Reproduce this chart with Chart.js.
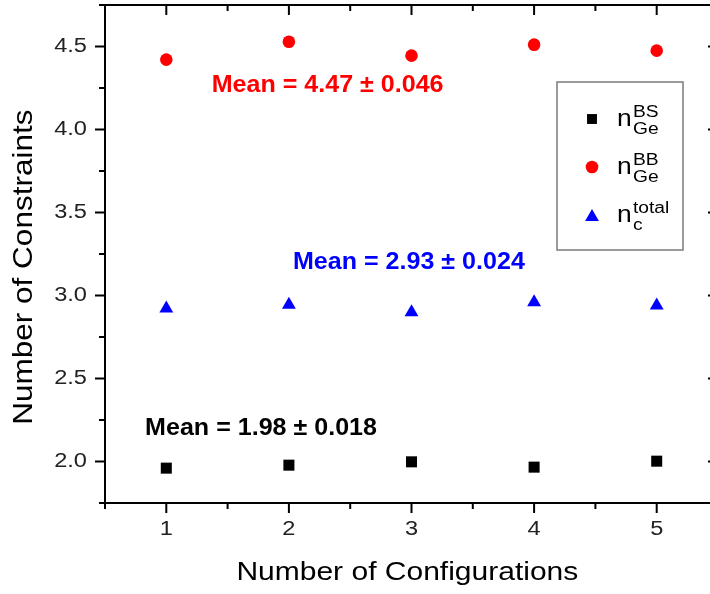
<!DOCTYPE html>
<html><head><meta charset="utf-8">
<script src="https://cdn.jsdelivr.net/npm/chart.js@4"></script>
<style>html,body{margin:0;padding:0;overflow:hidden;background:#fff}#wrap{position:relative;width:730px;height:594px}</style>
</head><body><div id="wrap"><canvas id="c"></canvas></div>
<script>
const configurations = [1, 2, 3, 4, 5];
const nGeBS   = [1.960, 1.978, 1.998, 1.966, 2.002];
const nGeBB   = [4.421, 4.529, 4.445, 4.511, 4.475];
const ncTotal = [2.921, 2.944, 2.899, 2.960, 2.940];
const xTicks = [1, 2, 3, 4, 5];
const xTickLabels = ['1', '2', '3', '4', '5'];
const yTicks = [2.0, 2.5, 3.0, 3.5, 4.0, 4.5];
const yTickLabels = ['2.0', '2.5', '3.0', '3.5', '4.0', '4.5'];
const meanTexts = ['Mean = 1.98 \u00B1 0.018', 'Mean = 4.47 \u00B1 0.046', 'Mean = 2.93 \u00B1 0.024'];

const FONT = "'Liberation Sans', Arial, sans-serif";
function stretchFor(font) {
  if (/bold/.test(font)) return 1.09;
  const m = /(\d+(?:\.\d+)?)px/.exec(font); const s = m ? +m[1] : 20;
  if (s >= 28) return 1.125;
  if (s >= 25) return 1.2;
  if (s >= 24) return 1.1;
  if (s <= 16) return 1.2;
  return 1.18;
}
(function () {
  const P = CanvasRenderingContext2D.prototype;
  const orig = P.fillText;
  P.fillText = function (t, x, y) {
    const k = stretchFor(this.font);
    this.save(); this.translate(x, y); this.scale(k, 1); orig.call(this, t, 0, 0); this.restore();
  };
})();

const framePlugin = {
  id: 'frame',
  beforeDatasetsDraw(chart) {
    const { ctx, chartArea: a, scales: { x, y } } = chart;
    ctx.save();
    ctx.strokeStyle = '#000'; ctx.lineWidth = 2; ctx.lineCap = 'butt';
    ctx.strokeRect(a.left, a.top, a.right - a.left, a.bottom - a.top);
    ctx.beginPath();
    for (let v = x.min; v <= x.max + 1e-9; v += 0.5) {
      const px = x.getPixelForValue(v);
      const L = Math.abs(v - Math.round(v)) < 1e-9 ? 10 : 6;
      ctx.moveTo(px, a.bottom); ctx.lineTo(px, a.bottom + L);
      ctx.moveTo(px, a.top); ctx.lineTo(px, a.top + L);
    }
    for (let v = y.min; v <= y.max + 1e-9; v += 0.25) {
      const py = y.getPixelForValue(v);
      const L = Math.abs(v * 2 - Math.round(v * 2)) < 1e-9 ? 10 : 6;
      ctx.moveTo(a.left, py); ctx.lineTo(a.left - L, py);
      ctx.moveTo(a.right, py); ctx.lineTo(a.right - L, py);
    }
    ctx.stroke();
    ctx.restore();
  }
};

const annotPlugin = {
  id: 'annot',
  afterDatasetsDraw(chart) {
    const { ctx, scales: { x, y } } = chart;
    const spots = [
      { text: meanTexts[0], x: 0.827, y: 2.198, color: '#000000' },
      { text: meanTexts[1], x: 1.37, y: 4.262, color: '#ff0000' },
      { text: meanTexts[2], x: 2.033, y: 3.2, color: '#0000ff' }
    ];
    ctx.save();
    ctx.font = 'bold 23px ' + FONT;
    ctx.textBaseline = 'middle'; ctx.textAlign = 'left';
    spots.forEach(s => { ctx.fillStyle = s.color; ctx.fillText(s.text, x.getPixelForValue(s.x), y.getPixelForValue(s.y)); });
    ctx.restore();
  }
};

const legendPlugin = {
  id: 'customLegend',
  afterDraw(chart) {
    const { ctx } = chart;
    const box = { l: 557, t: 82, r: 683, b: 250 };
    ctx.save();
    ctx.fillStyle = '#fff'; ctx.fillRect(box.l, box.t, box.r - box.l, box.b - box.t);
    ctx.strokeStyle = '#7a7a7a'; ctx.lineWidth = 1.5;
    ctx.strokeRect(box.l, box.t, box.r - box.l, box.b - box.t);
    const items = [
      { ds: 0, sup: 'BS', sub: 'Ge', cy: 119 },
      { ds: 1, sup: 'BB', sub: 'Ge', cy: 167 },
      { ds: 2, sup: 'total', sub: 'c', cy: 215 }
    ];
    items.forEach(it => {
      const d = chart.data.datasets[it.ds];
      ctx.fillStyle = d.backgroundColor; ctx.strokeStyle = d.backgroundColor;
      const r = d.pointStyle === 'rect' ? 7 : d.pointRadius;
      Chart.helpers.drawPoint(ctx, { pointStyle: d.pointStyle, radius: r, borderWidth: 0 }, 592, it.cy + (d.pointStyle === 'triangle' ? 2 : 0));
      ctx.fillStyle = '#000'; ctx.textAlign = 'left'; ctx.textBaseline = 'alphabetic';
      ctx.font = '24px ' + FONT;
      ctx.fillText('n', 617, it.cy + 7);
      ctx.font = '16px ' + FONT;
      ctx.fillText(it.sup, 633, it.cy - 2);
      ctx.fillText(it.sub, 633, it.cy + 15);
    });
    ctx.restore();
  }
};

const mk = arr => configurations.map((c, i) => ({ x: c, y: arr[i] }));

new Chart(document.getElementById('c'), {
  type: 'scatter',
  data: {
    datasets: [
      { label: 'n_Ge^BS', data: mk(nGeBS), pointStyle: 'rect', pointRadius: 7.8, pointHoverRadius: 7.8, backgroundColor: '#000000', borderWidth: 0 },
      { label: 'n_Ge^BB', data: mk(nGeBB), pointStyle: 'circle', pointRadius: 6.3, pointHoverRadius: 6.3, backgroundColor: '#ff0000', borderWidth: 0 },
      { label: 'n_c^total', data: mk(ncTotal), pointStyle: 'triangle', pointRadius: 8, pointHoverRadius: 8, backgroundColor: '#0000ff', borderWidth: 0 }
    ]
  },
  options: {
    responsive: true, maintainAspectRatio: false, animation: false,
    layout: { autoPadding: false, padding: { top: 5, right: 12, left: 0, bottom: 0 } },
    plugins: { legend: { display: false }, tooltip: { enabled: false } },
    scales: {
      x: {
        type: 'linear', min: 0.5, max: 5.5,
        afterBuildTicks(s) { s.ticks = xTicks.map(v => ({ value: v })); },
        afterFit(s) { s.height = 91; s.paddingLeft = 0; s.paddingRight = 0; },
        grid: { display: false, drawTicks: false }, border: { display: false },
        ticks: { padding: 14, color: '#222', font: { family: FONT, size: 20 }, callback: (v, i) => xTickLabels[i] },
        title: { display: true, text: 'Number of Configurations ', color: '#000', font: { family: FONT, size: 25 }, padding: { top: 0, bottom: 6 } }
      },
      y: {
        type: 'linear', min: 1.75, max: 4.75,
        afterBuildTicks(s) { s.ticks = yTicks.map(v => ({ value: v })); },
        afterFit(s) { s.width = 105; s.paddingTop = 0; s.paddingBottom = 0; },
        grid: { display: false, drawTicks: false }, border: { display: false },
        ticks: { padding: 18, color: '#222', font: { family: FONT, size: 20 }, callback: (v, i) => yTickLabels[i] },
        title: { display: true, text: 'Number of Constraints   ', color: '#000', font: { family: FONT, size: 28 }, padding: { top: 7, bottom: 0 } }
      }
    }
  },
  plugins: [framePlugin, annotPlugin, legendPlugin]
});
</script></body></html>
